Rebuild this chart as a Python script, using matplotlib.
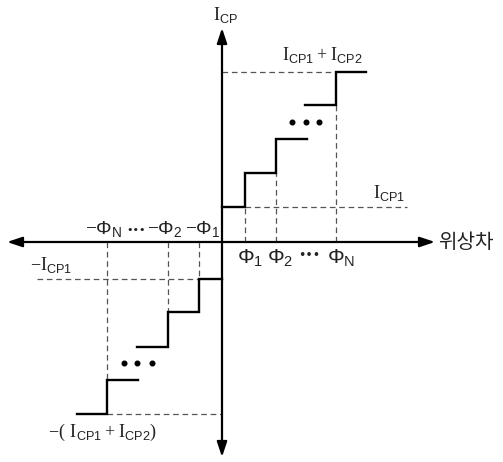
import matplotlib
matplotlib.use("Agg")
import matplotlib.pyplot as plt

plt.rcParams['font.family'] = ['Noto Sans CJK KR', 'DejaVu Sans']
plt.rcParams['mathtext.fontset'] = 'custom'
plt.rcParams['mathtext.rm'] = 'Liberation Serif'
plt.rcParams['mathtext.sf'] = 'Liberation Sans'

# ---- data (schematic units) ----
phase_pos_a = [0, 23, 54, 85]        # upper staircase, first part (phase boundaries)
level_pos_a = [35, 69, 103]          # current levels
phase_pos_b = [83, 114, 144]
level_pos_b = [137, 170]
phase_neg_a = [0, -23, -54, -85]
level_neg_a = [-37, -70, -105]
phase_neg_b = [-84, -115, -145]
level_neg_b = [-138, -172]
dots_pos_x = [70, 84, 97]
dots_pos_y = 120
dots_neg_x = [-98, -85, -70]
dots_neg_y = -121

fig = plt.figure(figsize=(5.03, 4.62), dpi=100)
ax = fig.add_axes([0, 0, 1, 1])
ax.set_xlim(-222, 281)
ax.set_ylim(-220, 242)
ax.axis('off')

def stair(px, lv):
    xs, ys = [], []
    for i, l in enumerate(lv):
        xs += [px[i], px[i + 1]]
        ys += [l, l]
    ax.plot(xs, ys, color='black', lw=1.7, solid_joinstyle='miter', zorder=3)

stair(phase_pos_a, level_pos_a)
stair(phase_pos_b, level_pos_b)
stair(phase_neg_a, level_neg_a)
stair(phase_neg_b, level_neg_b)

dkw = dict(color='#555555', lw=0.9, dashes=(4.5, 3), zorder=2)
# upper dashed
ax.plot([0, phase_pos_b[1]], [level_pos_b[1]] * 2, **dkw)
ax.plot([phase_pos_a[1], 185], [level_pos_a[0]] * 2, **dkw)
ax.plot([phase_pos_a[1]] * 2, [0, level_pos_a[0]], **dkw)
ax.plot([phase_pos_a[2]] * 2, [0, level_pos_a[1]], **dkw)
ax.plot([phase_pos_b[1]] * 2, [0, level_pos_b[0]], **dkw)
# lower dashed
ax.plot([-185, phase_neg_a[1]], [level_neg_a[0]] * 2, **dkw)
ax.plot([phase_neg_b[1], 0], [level_neg_b[1]] * 2, **dkw)
ax.plot([phase_neg_a[1]] * 2, [0, level_neg_a[0]], **dkw)
ax.plot([phase_neg_a[2]] * 2, [0, level_neg_a[1]], **dkw)
ax.plot([phase_neg_b[1]] * 2, [0, level_neg_b[0]], **dkw)

# axes with arrows
ap = dict(arrowstyle='<|-|>,head_length=0.9,head_width=0.3', color='black',
          lw=1.6, shrinkA=0, shrinkB=0, mutation_scale=10)
ax.annotate('', xy=(-215, 0), xytext=(213, 0), arrowprops=ap, zorder=4)
ax.annotate('', xy=(0, 214), xytext=(0, -215), arrowprops=ap, zorder=4)

# dots
ax.scatter(dots_pos_x, [dots_pos_y] * 3, s=11, color='black', zorder=3)
ax.scatter(dots_neg_x, [dots_neg_y] * 3, s=11, color='black', zorder=3)

# labels
tk = dict(fontsize=13, color='#222222')
pk = dict(fontsize=15, color='#222222')
nk = dict(fontsize=14, color='#222222')
ax.text(-9, 227, r'$\mathrm{I}_{\mathsf{CP}}$', ha='left', va='center', **tk)
ax.text(100, 187, r'$\mathrm{I}_{\mathsf{CP1}}+\mathrm{I}_{\mathsf{CP2}}$', ha='center', va='center', **tk)
ax.text(151, 49, r'$\mathrm{I}_{\mathsf{CP1}}$', ha='left', va='center', **tk)
ax.text(216, 0, '위상차', ha='left', va='center', fontsize=14.5, color='#222222')
ax.text(-192, -23, r'$-\mathrm{I}_{\mathsf{CP1}}$', ha='left', va='center', **tk)
ax.text(-174, -190, r'$-(\ \mathrm{I}_{\mathsf{CP1}}+\mathrm{I}_{\mathsf{CP2}})$', ha='left', va='center', **tk)

# phase labels (positive)
ax.text(15, -16, r'$\mathsf{\Phi}_{\mathsf{1}}$', ha='left', va='center', **pk)
ax.text(45, -16, r'$\mathsf{\Phi}_{\mathsf{2}}$', ha='left', va='center', **pk)
ax.text(87, -13, '•••', ha='center', va='center', fontsize=9, color='#222222', family='DejaVu Sans')
ax.text(105, -16, r'$\mathsf{\Phi}_{\mathsf{N}}$', ha='left', va='center', **pk)
# phase labels (negative)
ax.text(-137, 12, r'$-\mathsf{\Phi}_{\mathsf{N}}$', ha='left', va='center', **nk)
ax.text(-86, 12, '•••', ha='center', va='center', fontsize=8, color='#222222', family='DejaVu Sans')
ax.text(-75, 12, r'$-\mathsf{\Phi}_{\mathsf{2}}$', ha='left', va='center', **nk)
ax.text(-37, 12, r'$-\mathsf{\Phi}_{\mathsf{1}}$', ha='left', va='center', **nk)

fig.savefig('out.png', dpi=100)
